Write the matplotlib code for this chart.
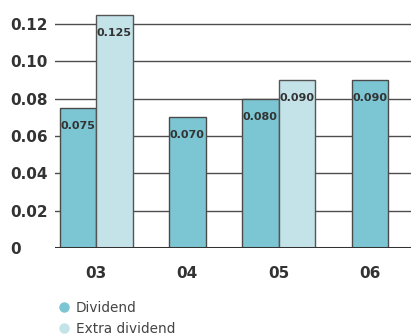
import numpy as np
import matplotlib.pyplot as plt
from matplotlib.lines import Line2D

# data
years = ['03', '04', '05', '06']
dividend = [0.075, 0.070, 0.080, 0.090]
extra = [0.125, np.nan, 0.090, np.nan]
yticks = [0, 0.02, 0.04, 0.06, 0.08, 0.10, 0.12]
ylabels = ['0', '0.02', '0.04', '0.06', '0.08', '0.10', '0.12']

c_div = '#7cc6d3'
c_ext = '#c4e3e9'
txt = '#333333'

fig = plt.figure(figsize=(4.11, 3.36), dpi=100)
ax = fig.add_axes([55 / 411, 88 / 336, 356 / 411, 242.5 / 336])

w = 0.4
x = np.arange(len(years))
has_ext = ~np.isnan(extra)
x_div = np.where(has_ext, x - w / 2, x)
x_ext = x + w / 2

ax.bar(x_div, dividend, width=w, color=c_div, edgecolor='#4a4a4a', linewidth=1, zorder=3)
ax.bar(x_ext[has_ext], np.array(extra)[has_ext], width=w, color=c_ext,
       edgecolor='#555555', linewidth=1, zorder=3)

# value labels inside bar tops
for xi, v in zip(x_div, dividend):
    ax.annotate(f'{v:.3f}', (xi, v), xytext=(0, -13), textcoords='offset points',
                ha='center', va='center', fontsize=8, fontweight='bold', color=txt, zorder=4)
for xi, v in zip(x_ext[has_ext], np.array(extra)[has_ext]):
    ax.annotate(f'{v:.3f}', (xi, v), xytext=(0, -13), textcoords='offset points',
                ha='center', va='center', fontsize=8, fontweight='bold', color=txt, zorder=4)

for yv in yticks[1:]:
    ax.axhline(yv, color='#4d4d4d', linewidth=1, zorder=1)
ax.axhline(0, color='#333333', linewidth=2.2, zorder=5)

ax.set_xlim(-0.45, 3.45)
ax.set_ylim(0, 0.13)
ax.set_xticks(x)
ax.set_xticklabels(years, fontsize=11, fontweight='bold', color=txt)
ax.set_yticks(yticks)
ax.set_yticklabels(ylabels, fontsize=11, fontweight='bold', color=txt)
ax.tick_params(axis='both', length=0)
ax.tick_params(axis='x', pad=13)
ax.tick_params(axis='y', pad=32)
for t in ax.get_yticklabels():
    t.set_horizontalalignment('left')
for s in ax.spines.values():
    s.set_visible(False)

handles = [Line2D([], [], marker='o', linestyle='', markersize=6.5, color=c_div),
           Line2D([], [], marker='o', linestyle='', markersize=6.5, color=c_ext)]
fig.legend(handles, ['Dividend', 'Extra dividend'], loc='upper left',
           bbox_to_anchor=(59 / 411, 1 - 301 / 336), frameon=False,
           fontsize=9.8, labelcolor='#444444', handlelength=0.8,
           handletextpad=0.45, labelspacing=0.5, borderpad=0, borderaxespad=0)

fig.savefig('out.png', dpi=100)
